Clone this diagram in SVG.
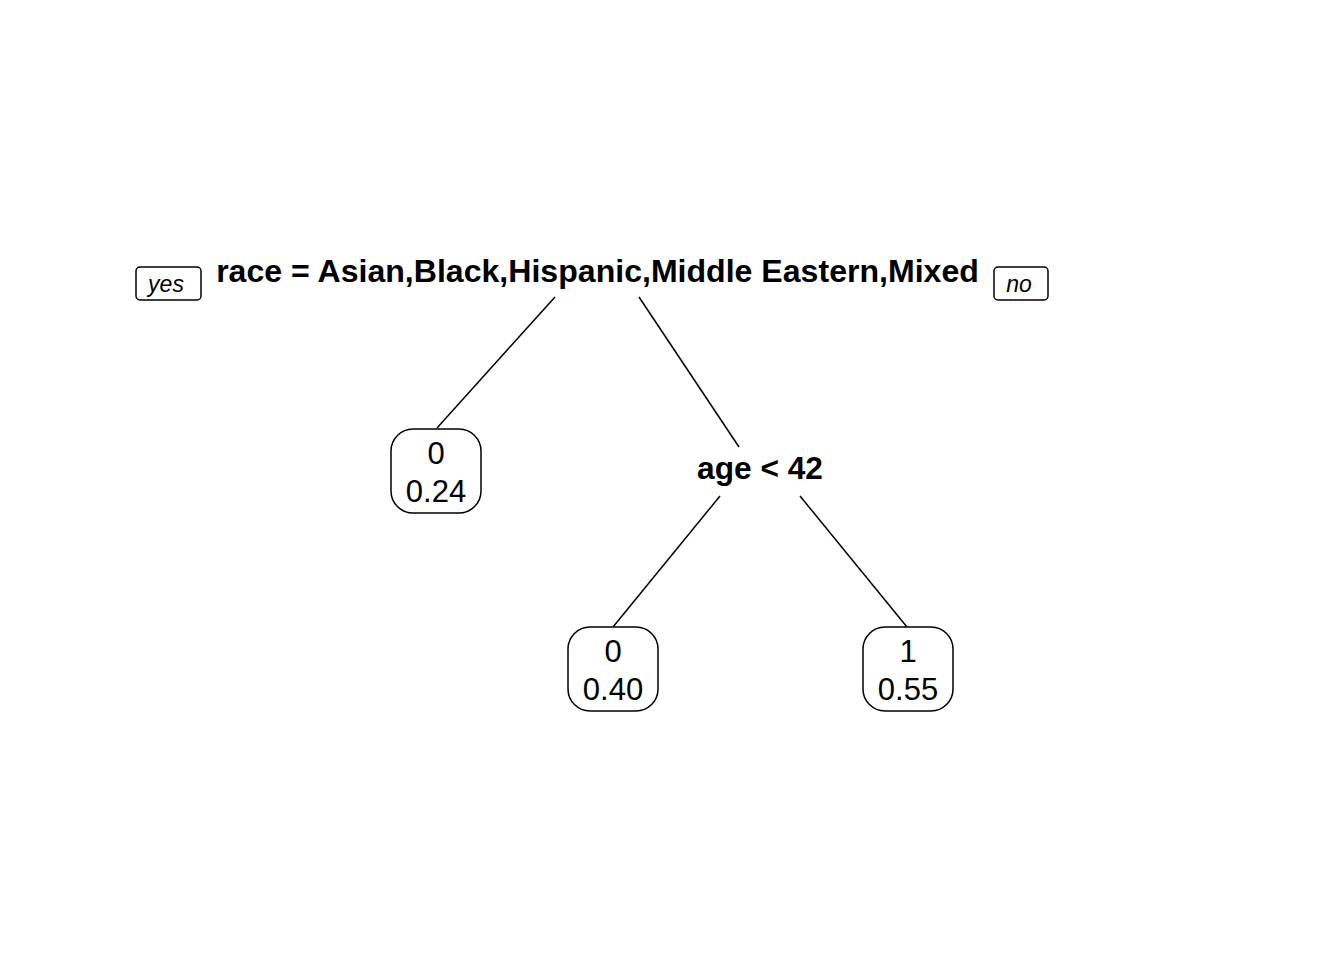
<svg xmlns="http://www.w3.org/2000/svg" width="1344" height="960" viewBox="0 0 1344 960">
<style>
.bg{fill:#fff}
.split{font-family:"Liberation Sans",Arial,sans-serif;font-weight:bold;font-size:31.7px;fill:#000;text-anchor:middle}
.root{font-size:32.1px}
.leaf{font-family:"Liberation Sans",Arial,sans-serif;font-size:31px;fill:#000;text-anchor:middle}
.lbl{font-family:"Liberation Sans",Arial,sans-serif;font-style:italic;font-size:23px;fill:#000;text-anchor:middle}
.box{fill:#fff;stroke:#000;stroke-width:1.5}
.edge{stroke:#000;stroke-width:1.5;fill:none}
</style>
<rect class="bg" width="1344" height="960"/>
<g id="connectors">
<line class="edge" x1="555" y1="297" x2="437" y2="428"/>
<line class="edge" x1="639" y1="297" x2="739" y2="447"/>
<line class="edge" x1="720" y1="496" x2="613" y2="627"/>
<line class="edge" x1="800" y1="496" x2="907" y2="627"/>
</g>
<g id="root">
<text class="split root" x="597.5" y="282">race = Asian,Black,Hispanic,Middle Eastern,Mixed</text>
</g>
<g id="yes-label">
<rect class="box" x="136" y="267" width="65" height="33" rx="4"/>
<text class="lbl" x="166" y="292">yes</text>
</g>
<g id="no-label">
<rect class="box" x="994" y="267" width="54" height="33" rx="4"/>
<text class="lbl" x="1019" y="292">no</text>
</g>
<g id="leaf1">
<rect class="box" x="391" y="429" width="90" height="84" rx="22"/>
<text class="leaf" x="436" y="464">0</text>
<text class="leaf" x="436" y="502">0.24</text>
</g>
<g id="age">
<text class="split" x="760" y="479">age &lt; 42</text>
</g>
<g id="leaf2">
<rect class="box" x="568" y="627" width="90" height="84" rx="22"/>
<text class="leaf" x="613" y="662">0</text>
<text class="leaf" x="613" y="700">0.40</text>
</g>
<g id="leaf3">
<rect class="box" x="863" y="627" width="90" height="84" rx="22"/>
<text class="leaf" x="908" y="662">1</text>
<text class="leaf" x="908" y="700">0.55</text>
</g>
</svg>
